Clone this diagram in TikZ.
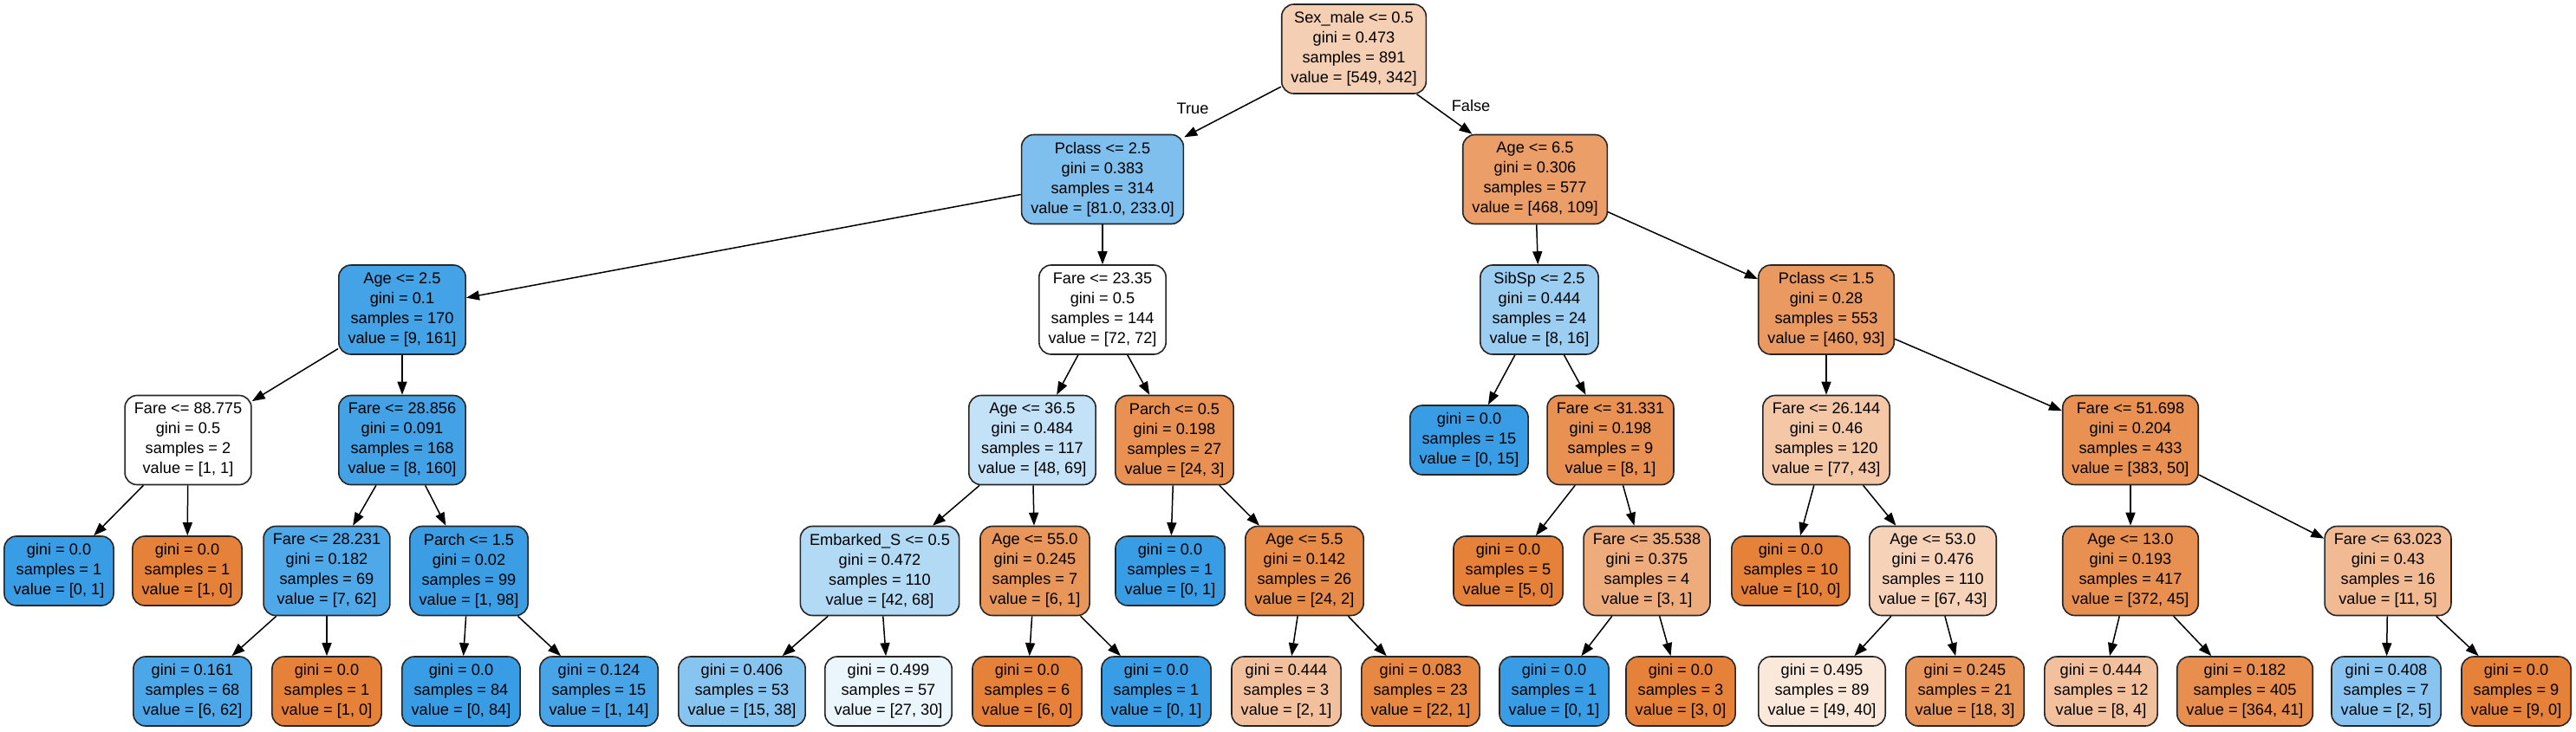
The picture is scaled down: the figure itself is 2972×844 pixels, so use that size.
\documentclass[tikz,border=0pt]{standalone}
\usepackage{fontspec}
\setmainfont{Liberation Sans}
\usetikzlibrary{arrows.meta}
\definecolor{org}{HTML}{E58139}
\definecolor{blu}{HTML}{399DE5}
\tikzset{
  tnode/.style={draw=black!85, line width=1.6pt, rounded corners=14pt, align=center,
    inner xsep=10.7pt, inner ysep=0pt, font=\fontsize{18.2}{23}\selectfont},
  split/.style={tnode, minimum height=103pt},
  leaf/.style={tnode, minimum height=80pt},
  edge/.style={draw=black, line width=1.5pt, -{Triangle[length=15pt,width=11pt]}},
  elabel/.style={font=\fontsize{18.2}{23}\selectfont, inner sep=0pt}
}
\begin{document}
\begin{tikzpicture}[x=1pt,y=-1pt]
\useasboundingbox (0,0) rectangle (2972,844);
% level 0
\node[split, fill=org!37.7] (n0) at (1562,56.5) {Sex\_male <= 0.5\\gini = 0.473\\samples = 891\\value = [549, 342]};
% level 1
\node[split, fill=blu!65.2] (n1) at (1272,207) {Pclass <= 2.5\\gini = 0.383\\samples = 314\\value = [81.0, 233.0]};
\node[split, fill=org!76.7] (n2) at (1771,207) {Age <= 6.5\\gini = 0.306\\samples = 577\\value = [468, 109]};
% level 2
\node[split, fill=blu!94.4] (n3) at (464,357.5) {Age <= 2.5\\gini = 0.1\\samples = 170\\value = [9, 161]};
\node[split, fill=white] (n4) at (1272,357.5) {Fare <= 23.35\\gini = 0.5\\samples = 144\\value = [72, 72]};
\node[split, fill=blu!50] (n5) at (1776,357.5) {SibSp <= 2.5\\gini = 0.444\\samples = 24\\value = [8, 16]};
\node[split, fill=org!79.8] (n6) at (2107,357.5) {Pclass <= 1.5\\gini = 0.28\\samples = 553\\value = [460, 93]};
% level 3
\node[split, fill=white] (n7) at (217,508) {Fare <= 88.775\\gini = 0.5\\samples = 2\\value = [1, 1]};
\node[split, fill=blu!95] (n8) at (464,508) {Fare <= 28.856\\gini = 0.091\\samples = 168\\value = [8, 160]};
\node[split, fill=blu!30.4] (n9) at (1191,508) {Age <= 36.5\\gini = 0.484\\samples = 117\\value = [48, 69]};
\node[split, fill=org!87.5] (n10) at (1355,508) {Parch <= 0.5\\gini = 0.198\\samples = 27\\value = [24, 3]};
\node[leaf, fill=blu] (n11) at (1695,508) {gini = 0.0\\samples = 15\\value = [0, 15]};
\node[split, fill=org!87.5] (n12) at (1858,508) {Fare <= 31.331\\gini = 0.198\\samples = 9\\value = [8, 1]};
\node[split, fill=org!44.2] (n13) at (2107,508) {Fare <= 26.144\\gini = 0.46\\samples = 120\\value = [77, 43]};
\node[split, fill=org!86.9] (n14) at (2458,508) {Fare <= 51.698\\gini = 0.204\\samples = 433\\value = [383, 50]};
% level 4
\node[leaf, fill=blu] (n15) at (68,659) {gini = 0.0\\samples = 1\\value = [0, 1]};
\node[leaf, fill=org] (n16) at (216,659) {gini = 0.0\\samples = 1\\value = [1, 0]};
\node[split, fill=blu!88.7] (n17) at (377,659) {Fare <= 28.231\\gini = 0.182\\samples = 69\\value = [7, 62]};
\node[split, fill=blu!99] (n18) at (541,659) {Parch <= 1.5\\gini = 0.02\\samples = 99\\value = [1, 98]};
\node[split, fill=blu!38.2] (n19) at (1015,659) {Embarked\_S <= 0.5\\gini = 0.472\\samples = 110\\value = [42, 68]};
\node[split, fill=org!83.3] (n20) at (1194,659) {Age <= 55.0\\gini = 0.245\\samples = 7\\value = [6, 1]};
\node[leaf, fill=blu] (n21) at (1350,659) {gini = 0.0\\samples = 1\\value = [0, 1]};
\node[split, fill=org!91.7] (n22) at (1505,659) {Age <= 5.5\\gini = 0.142\\samples = 26\\value = [24, 2]};
\node[leaf, fill=org] (n23) at (1740,659) {gini = 0.0\\samples = 5\\value = [5, 0]};
\node[split, fill=org!66.7] (n24) at (1900,659) {Fare <= 35.538\\gini = 0.375\\samples = 4\\value = [3, 1]};
\node[leaf, fill=org] (n25) at (2066,659) {gini = 0.0\\samples = 10\\value = [10, 0]};
\node[split, fill=org!35.8] (n26) at (2230,659) {Age <= 53.0\\gini = 0.476\\samples = 110\\value = [67, 43]};
\node[split, fill=org!87.9] (n27) at (2458,659) {Age <= 13.0\\gini = 0.193\\samples = 417\\value = [372, 45]};
\node[split, fill=org!54.5] (n28) at (2755,659) {Fare <= 63.023\\gini = 0.43\\samples = 16\\value = [11, 5]};
% level 5
\node[leaf, fill=blu!90.3] (n29) at (222,798) {gini = 0.161\\samples = 68\\value = [6, 62]};
\node[leaf, fill=org] (n30) at (377,798) {gini = 0.0\\samples = 1\\value = [1, 0]};
\node[leaf, fill=blu] (n31) at (532,798) {gini = 0.0\\samples = 84\\value = [0, 84]};
\node[leaf, fill=blu!92.9] (n32) at (691,798) {gini = 0.124\\samples = 15\\value = [1, 14]};
\node[leaf, fill=blu!60.5] (n33) at (856,798) {gini = 0.406\\samples = 53\\value = [15, 38]};
\node[leaf, fill=blu!10] (n34) at (1025,798) {gini = 0.499\\samples = 57\\value = [27, 30]};
\node[leaf, fill=org] (n35) at (1185,798) {gini = 0.0\\samples = 6\\value = [6, 0]};
\node[leaf, fill=blu] (n36) at (1334,798) {gini = 0.0\\samples = 1\\value = [0, 1]};
\node[leaf, fill=org!50] (n37) at (1484,798) {gini = 0.444\\samples = 3\\value = [2, 1]};
\node[leaf, fill=org!95.5] (n38) at (1639,798) {gini = 0.083\\samples = 23\\value = [22, 1]};
\node[leaf, fill=blu] (n39) at (1793,798) {gini = 0.0\\samples = 1\\value = [0, 1]};
\node[leaf, fill=org] (n40) at (1939,798) {gini = 0.0\\samples = 3\\value = [3, 0]};
\node[leaf, fill=org!18.4] (n41) at (2102,798) {gini = 0.495\\samples = 89\\value = [49, 40]};
\node[leaf, fill=org!83.3] (n42) at (2267,798) {gini = 0.245\\samples = 21\\value = [18, 3]};
\node[leaf, fill=org!50] (n43) at (2424,798) {gini = 0.444\\samples = 12\\value = [8, 4]};
\node[leaf, fill=org!88.7] (n44) at (2590,798) {gini = 0.182\\samples = 405\\value = [364, 41]};
\node[leaf, fill=blu!60] (n45) at (2753,798) {gini = 0.408\\samples = 7\\value = [2, 5]};
\node[leaf, fill=org] (n46) at (2903,798) {gini = 0.0\\samples = 9\\value = [9, 0]};
% edge labels
\node[elabel] (lt) at (1376,125) {True};
\node[elabel] (lf) at (1697,122) {False};
% edges
\foreach \a/\b in {n0/n1,n0/n2,n1/n3,n1/n4,n2/n5,n2/n6,n3/n7,n3/n8,n4/n9,n4/n10,
  n5/n11,n5/n12,n6/n13,n6/n14,n7/n15,n7/n16,n8/n17,n8/n18,n9/n19,n9/n20,
  n10/n21,n10/n22,n12/n23,n12/n24,n13/n25,n13/n26,n14/n27,n14/n28,
  n17/n29,n17/n30,n18/n31,n18/n32,n19/n33,n19/n34,n20/n35,n20/n36,
  n22/n37,n22/n38,n24/n39,n24/n40,n26/n41,n26/n42,n27/n43,n27/n44,n28/n45,n28/n46}
  \draw[edge] (\a) -- (\b);
\end{tikzpicture}
\end{document}
